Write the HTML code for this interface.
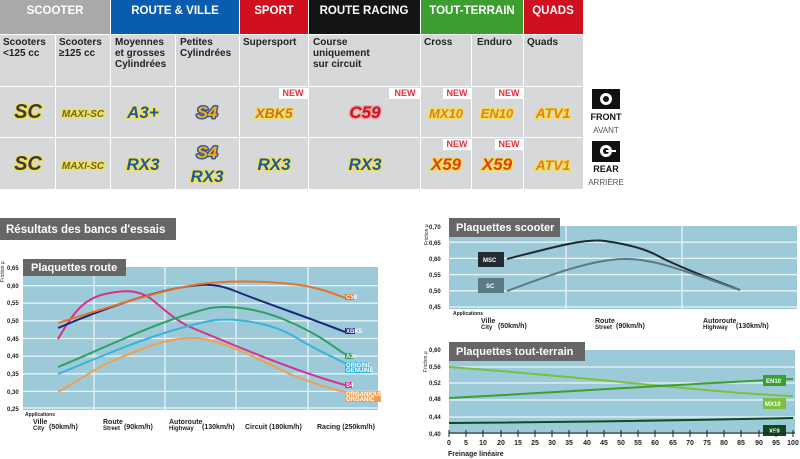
<!DOCTYPE html>
<html><head><meta charset="utf-8"><style>
body{margin:0;background:#fff;width:800px;height:459px;overflow:hidden}
svg{display:block;font-family:"Liberation Sans",sans-serif}
.h{font-weight:bold;fill:#fff;font-size:11.5px;text-anchor:middle}
.d{font-weight:bold;fill:#222;font-size:10px}
.lg{font-weight:bold;font-style:italic;font-size:17px;text-anchor:middle;paint-order:stroke;stroke:#f2df5a;stroke-width:3px;stroke-linejoin:round}
.new{fill:#e03040;font-size:9px;font-weight:bold;text-anchor:middle}
.yt{font-size:6px;fill:#222;font-weight:bold}
.xt{font-size:7px;fill:#222;font-weight:bold}
.tb{font-weight:bold;fill:#fff;font-size:11px}
.lab{font-size:6px;fill:#fff;font-weight:bold}
</style></head><body>
<svg width="800" height="459" viewBox="0 0 800 459">
<rect x="0" y="0" width="110" height="34" fill="#a9a9a9"/>
<rect x="111" y="0" width="128" height="34" fill="#0a5cb0"/>
<rect x="240" y="0" width="68" height="34" fill="#d0101e"/>
<rect x="309" y="0" width="111" height="34" fill="#141414"/>
<rect x="421" y="0" width="102" height="34" fill="#3c9e2e"/>
<rect x="524" y="0" width="59" height="34" fill="#d0101e"/>
<text class="h" x="55" y="14">SCOOTER</text>
<text class="h" x="175" y="14">ROUTE &amp; VILLE</text>
<text class="h" x="274" y="14">SPORT</text>
<text class="h" x="364" y="14">ROUTE RACING</text>
<text class="h" x="472" y="14">TOUT-TERRAIN</text>
<text class="h" x="553" y="14">QUADS</text>
<g fill="#d7d8da">
<rect x="0" y="35" width="55" height="51"/><rect x="56" y="35" width="54" height="51"/><rect x="111" y="35" width="64" height="51"/><rect x="176" y="35" width="63" height="51"/><rect x="240" y="35" width="68" height="51"/><rect x="309" y="35" width="111" height="51"/><rect x="421" y="35" width="50" height="51"/><rect x="472" y="35" width="51" height="51"/><rect x="524" y="35" width="59" height="51"/>
<rect x="0" y="87" width="55" height="50"/><rect x="56" y="87" width="54" height="50"/><rect x="111" y="87" width="64" height="50"/><rect x="176" y="87" width="63" height="50"/><rect x="240" y="87" width="68" height="50"/><rect x="309" y="87" width="111" height="50"/><rect x="421" y="87" width="50" height="50"/><rect x="472" y="87" width="51" height="50"/><rect x="524" y="87" width="59" height="50"/>
<rect x="0" y="138" width="55" height="51"/><rect x="56" y="138" width="54" height="51"/><rect x="111" y="138" width="64" height="51"/><rect x="176" y="138" width="63" height="51"/><rect x="240" y="138" width="68" height="51"/><rect x="309" y="138" width="111" height="51"/><rect x="421" y="138" width="50" height="51"/><rect x="472" y="138" width="51" height="51"/><rect x="524" y="138" width="59" height="51"/>
</g>
<text class="d"><tspan x="3" y="45">Scooters</tspan><tspan x="3" y="56">&lt;125 cc</tspan></text>
<text class="d"><tspan x="59" y="45">Scooters</tspan><tspan x="59" y="56">≥125 cc</tspan></text>
<text class="d"><tspan x="115" y="45">Moyennes</tspan><tspan x="115" y="56">et grosses</tspan><tspan x="115" y="67">Cylindrées</tspan></text>
<text class="d"><tspan x="180" y="45">Petites</tspan><tspan x="180" y="56">Cylindrées</tspan></text>
<text class="d"><tspan x="243" y="45">Supersport</tspan></text>
<text class="d"><tspan x="313" y="45">Course</tspan><tspan x="313" y="56">uniquement</tspan><tspan x="313" y="67">sur circuit</tspan></text>
<text class="d"><tspan x="424" y="45">Cross</tspan></text>
<text class="d"><tspan x="477" y="45">Enduro</tspan></text>
<text class="d"><tspan x="527" y="45">Quads</tspan></text>
<g fill="#fff"><rect x="279" y="88" width="29" height="11"/><rect x="389" y="88" width="31" height="11"/><rect x="443" y="88" width="28" height="11"/><rect x="495" y="88" width="28" height="11"/><rect x="443" y="139" width="28" height="11"/><rect x="495" y="139" width="28" height="11"/></g>
<text class="new" x="293" y="96">NEW</text><text class="new" x="405" y="96">NEW</text><text class="new" x="457" y="96">NEW</text><text class="new" x="509" y="96">NEW</text><text class="new" x="457" y="147">NEW</text><text class="new" x="509" y="147">NEW</text>
<text class="lg" x="28" y="118" fill="#3a3a3a" style="font-size:20px">SC</text>
<text class="lg" x="83" y="117" fill="#6a6a2a" style="font-size:10px">MAXI-SC</text>
<text class="lg" x="143" y="118" fill="#1d5a9a">A3+</text>
<text class="lg" x="207" y="118" fill="#f0b020" style="stroke:#3a5a9a">S4</text>
<text class="lg" x="274" y="118" fill="#d07020" style="font-size:14px">XBK5</text>
<text class="lg" x="365" y="118" fill="#d01020" style="stroke:#f0a0a0">C59</text>
<text class="lg" x="446" y="118" fill="#e08020" style="font-size:13px">MX10</text>
<text class="lg" x="497" y="118" fill="#e08020" style="font-size:13px">EN10</text>
<text class="lg" x="553" y="118" fill="#e08020" style="font-size:14px">ATV1</text>
<text class="lg" x="28" y="170" fill="#3a3a3a" style="font-size:20px">SC</text>
<text class="lg" x="83" y="169" fill="#6a6a2a" style="font-size:10px">MAXI-SC</text>
<text class="lg" x="143" y="170" fill="#1d5a9a">RX3</text>
<text class="lg" x="207" y="158" fill="#f0b020" style="stroke:#3a5a9a">S4</text>
<text class="lg" x="207" y="182" fill="#1d5a9a">RX3</text>
<text class="lg" x="274" y="170" fill="#1d5a9a">RX3</text>
<text class="lg" x="365" y="170" fill="#1d5a9a">RX3</text>
<text class="lg" x="446" y="170" fill="#e04010">X59</text>
<text class="lg" x="497" y="170" fill="#e04010">X59</text>
<text class="lg" x="553" y="170" fill="#e08020" style="font-size:14px">ATV1</text>
<rect x="592" y="89" width="28" height="20" fill="#111"/><circle cx="606" cy="99" r="6" fill="#fff"/><circle cx="606" cy="99" r="3" fill="#111"/>
<text x="606" y="120" font-size="9" font-weight="bold" text-anchor="middle" fill="#111">FRONT</text>
<text x="606" y="133" font-size="8" text-anchor="middle" fill="#555">AVANT</text>
<rect x="592" y="141" width="28" height="21" fill="#111"/><circle cx="606" cy="151" r="6" fill="#fff"/><circle cx="606" cy="151" r="3" fill="#111"/><rect x="606" y="150" width="10" height="2" fill="#fff"/>
<text x="606" y="172" font-size="9" font-weight="bold" text-anchor="middle" fill="#111">REAR</text>
<text x="606" y="185" font-size="8" text-anchor="middle" fill="#555">ARRIÈRE</text>

<rect x="0" y="218" width="176" height="22" fill="#666"/>
<text x="6" y="233" font-size="11.5" font-weight="bold" fill="#fff">Résultats des bancs d'essais</text>

<rect x="23" y="267" width="355" height="143" fill="#9dcad8"/>
<g stroke="#e8f3f6" stroke-width="1.3">
<line x1="23" x2="378" y1="285.6" y2="285.6"/><line x1="23" x2="378" y1="303.2" y2="303.2"/><line x1="23" x2="378" y1="320.9" y2="320.9"/><line x1="23" x2="378" y1="338.5" y2="338.5"/><line x1="23" x2="378" y1="356.1" y2="356.1"/><line x1="23" x2="378" y1="373.8" y2="373.8"/><line x1="23" x2="378" y1="391.4" y2="391.4"/><line x1="23" x2="378" y1="408" y2="408"/>
<line x1="94" x2="94" y1="267" y2="410"/><line x1="165" x2="165" y1="267" y2="410"/><line x1="236" x2="236" y1="267" y2="410"/><line x1="308" x2="308" y1="267" y2="410"/>
</g>
<rect x="23" y="259" width="103" height="17" fill="#666"/>
<text class="tb" x="31" y="271">Plaquettes route</text>
<g class="yt"><text x="7" y="270">0,65</text><text x="7" y="288">0,60</text><text x="7" y="305">0,55</text><text x="7" y="323">0,50</text><text x="7" y="341">0,45</text><text x="7" y="358">0,40</text><text x="7" y="376">0,35</text><text x="7" y="394">0,30</text><text x="7" y="411">0,25</text></g>
<text x="4" y="282" font-size="5" transform="rotate(-90 4 282)" fill="#222">Friction µ</text>
<g fill="none" stroke-width="2">
<path d="M58,339 C75,310 85,297 110,293 C130,289 140,292 150,298 C165,310 175,320 190,327 C215,337 290,370 345,385" stroke="#d8308a"/>
<path d="M58,328 C100,310 160,288 200,285 C215,284 225,287 235,291 C270,305 310,318 345,332" stroke="#1c2880"/>
<path d="M58,323 C100,310 160,290 200,284 C230,280 270,281 300,285 C320,288 335,294 345,298" stroke="#e8722a"/>
<path d="M58,367 C100,350 160,320 210,308 C240,304 270,313 290,322 C320,335 335,348 345,354" stroke="#30a060"/>
<path d="M58,374 C100,357 160,330 215,320 C245,318 275,325 295,337 C320,352 335,358 345,363" stroke="#38b4dc"/>
<path d="M58,392 C80,380 95,368 115,360 C150,345 170,338 193,338 C220,338 260,360 290,374 C320,386 335,390 345,392" stroke="#f0a050"/>
</g>
<rect x="345" y="294" width="9" height="6" fill="#e8722a"/><text class="lab" x="346" y="299" font-size="4">C59</text>
<rect x="345" y="328" width="10" height="6" fill="#1c2880"/><text class="lab" x="346" y="333" font-size="4">XBK5</text>
<rect x="345" y="353" width="8" height="6" fill="#30a060"/><text class="lab" x="346" y="358" font-size="4">A3+</text>
<rect x="345" y="362" width="26" height="11" fill="#38b4dc"/><text class="lab" x="346" y="367" font-size="4">ORIGINE</text><text class="lab" x="346" y="372" font-size="4">GENUINE</text>
<rect x="345" y="382" width="7" height="6" fill="#d8308a"/><text class="lab" x="346" y="387" font-size="4">S4</text>
<rect x="345" y="391" width="36" height="11" fill="#f0a050"/><text class="lab" x="346" y="396" font-size="4">ORGANIQUE</text><text class="lab" x="346" y="401" font-size="4">ORGANIC</text>
<text x="25" y="416" font-size="5" font-weight="bold" fill="#222">Applications</text>
<g class="xt">
<text x="33" y="424" font-size="7">Ville</text><text x="33" y="430" font-size="6">City</text><text x="49" y="429">(50km/h)</text>
<text x="103" y="424">Route</text><text x="103" y="430" font-size="6">Street</text><text x="124" y="429">(90km/h)</text>
<text x="169" y="424">Autoroute</text><text x="169" y="430" font-size="6">Highway</text><text x="202" y="429">(130km/h)</text>
<text x="245" y="429">Circuit (180km/h)</text>
<text x="317" y="429">Racing (250km/h)</text>
</g>

<rect x="449" y="226" width="348" height="83" fill="#9dcad8"/>
<g stroke="#e8f3f6" stroke-width="1.3">
<line x1="449" x2="797" y1="242.2" y2="242.2"/><line x1="449" x2="797" y1="258.4" y2="258.4"/><line x1="449" x2="797" y1="274.6" y2="274.6"/><line x1="449" x2="797" y1="290.8" y2="290.8"/><line x1="449" x2="797" y1="307" y2="307"/>
<line x1="566" x2="566" y1="226" y2="309"/><line x1="682" x2="682" y1="226" y2="309"/>
</g>
<rect x="449" y="218" width="111" height="19" fill="#666"/>
<text class="tb" x="456" y="231">Plaquettes scooter</text>
<g class="yt"><text x="429" y="229">0,70</text><text x="429" y="245">0,65</text><text x="429" y="261">0,60</text><text x="429" y="277">0,55</text><text x="429" y="293">0,50</text><text x="429" y="309">0,45</text></g>
<text x="428" y="245" font-size="5" transform="rotate(-90 428 245)" fill="#222">Friction µ</text>
<path d="M507,259 C550,248 585,238 605,241 C625,244 645,248 660,257 C690,272 720,282 740,290" fill="none" stroke="#1e2a30" stroke-width="2"/>
<path d="M507,291 C550,275 590,260 623,259 C650,258 680,270 700,276 C720,283 730,287 740,290" fill="none" stroke="#5a7a84" stroke-width="2"/>
<rect x="478" y="252" width="26" height="15" fill="#222c30"/><text class="lab" x="483" y="262" font-size="7">MSC</text>
<rect x="478" y="278" width="26" height="15" fill="#5a7a84"/><text class="lab" x="486" y="288" font-size="7">SC</text>
<text x="453" y="315" font-size="5" font-weight="bold" fill="#222">Applications</text>
<g class="xt">
<text x="481" y="323">Ville</text><text x="481" y="329" font-size="6">City</text><text x="498" y="328">(50km/h)</text>
<text x="595" y="323">Route</text><text x="595" y="329" font-size="6">Street</text><text x="616" y="328">(90km/h)</text>
<text x="703" y="323">Autoroute</text><text x="703" y="329" font-size="6">Highway</text><text x="736" y="328">(130km/h)</text>
</g>

<rect x="449" y="350" width="346" height="84" fill="#9dcad8"/>
<g stroke="#e8f3f6" stroke-width="1.3">
<line x1="449" x2="795" y1="367" y2="367"/><line x1="449" x2="795" y1="383" y2="383"/><line x1="449" x2="795" y1="400" y2="400"/><line x1="449" x2="795" y1="417" y2="417"/>
</g>
<rect x="449" y="342" width="136" height="19" fill="#666"/>
<text class="tb" x="456" y="355">Plaquettes tout-terrain</text>
<g class="yt"><text x="429" y="352">0,60</text><text x="429" y="369">0,56</text><text x="429" y="385">0,52</text><text x="429" y="401">0,48</text><text x="429" y="419">0,44</text><text x="429" y="436">0,40</text></g>
<text x="427" y="372" font-size="5" transform="rotate(-90 427 372)" fill="#222">Friction µ</text>
<path d="M449,367 C600,378 700,392 793,396" fill="none" stroke="#7cc040" stroke-width="2"/>
<path d="M449,398 C600,390 700,383 793,379" fill="none" stroke="#3aa030" stroke-width="2"/>
<path d="M449,423 C600,422 700,420 793,418" fill="none" stroke="#0d4a1c" stroke-width="2"/>
<rect x="763" y="375" width="23" height="11" fill="#3aa030"/><text class="lab" x="766" y="383" font-size="7">EN10</text>
<rect x="763" y="398" width="23" height="11" fill="#7cc040"/><text class="lab" x="765" y="406" font-size="7">MX10</text>
<rect x="763" y="425" width="23" height="11" fill="#0d4a1c"/><text class="lab" x="769" y="433" font-size="7">X59</text>
<g stroke="#222" stroke-width="1">
<line x1="449" x2="795" y1="433" y2="433"/>
<line x1="449" x2="449" y1="430" y2="437"/><line x1="466" x2="466" y1="430" y2="437"/><line x1="483" x2="483" y1="430" y2="437"/><line x1="501" x2="501" y1="430" y2="437"/><line x1="518" x2="518" y1="430" y2="437"/><line x1="535" x2="535" y1="430" y2="437"/><line x1="552" x2="552" y1="430" y2="437"/><line x1="569" x2="569" y1="430" y2="437"/><line x1="587" x2="587" y1="430" y2="437"/><line x1="604" x2="604" y1="430" y2="437"/><line x1="621" x2="621" y1="430" y2="437"/><line x1="638" x2="638" y1="430" y2="437"/><line x1="655" x2="655" y1="430" y2="437"/><line x1="673" x2="673" y1="430" y2="437"/><line x1="690" x2="690" y1="430" y2="437"/><line x1="707" x2="707" y1="430" y2="437"/><line x1="724" x2="724" y1="430" y2="437"/><line x1="741" x2="741" y1="430" y2="437"/><line x1="759" x2="759" y1="430" y2="437"/><line x1="776" x2="776" y1="430" y2="437"/><line x1="793" x2="793" y1="430" y2="437"/>
</g>
<g class="xt" text-anchor="middle" font-size="6.5">
<text x="449" y="445">0</text><text x="466" y="445">5</text><text x="483" y="445">10</text><text x="501" y="445">20</text><text x="518" y="445">15</text><text x="535" y="445">25</text><text x="552" y="445">30</text><text x="569" y="445">35</text><text x="587" y="445">40</text><text x="604" y="445">45</text><text x="621" y="445">50</text><text x="638" y="445">55</text><text x="655" y="445">60</text><text x="673" y="445">65</text><text x="690" y="445">70</text><text x="707" y="445">75</text><text x="724" y="445">80</text><text x="741" y="445">85</text><text x="759" y="445">90</text><text x="776" y="445">95</text><text x="793" y="445">100</text>
</g>
<text x="448" y="456" font-size="7" font-weight="bold" fill="#222">Freinage linéaire</text>
</svg>
</body></html>
